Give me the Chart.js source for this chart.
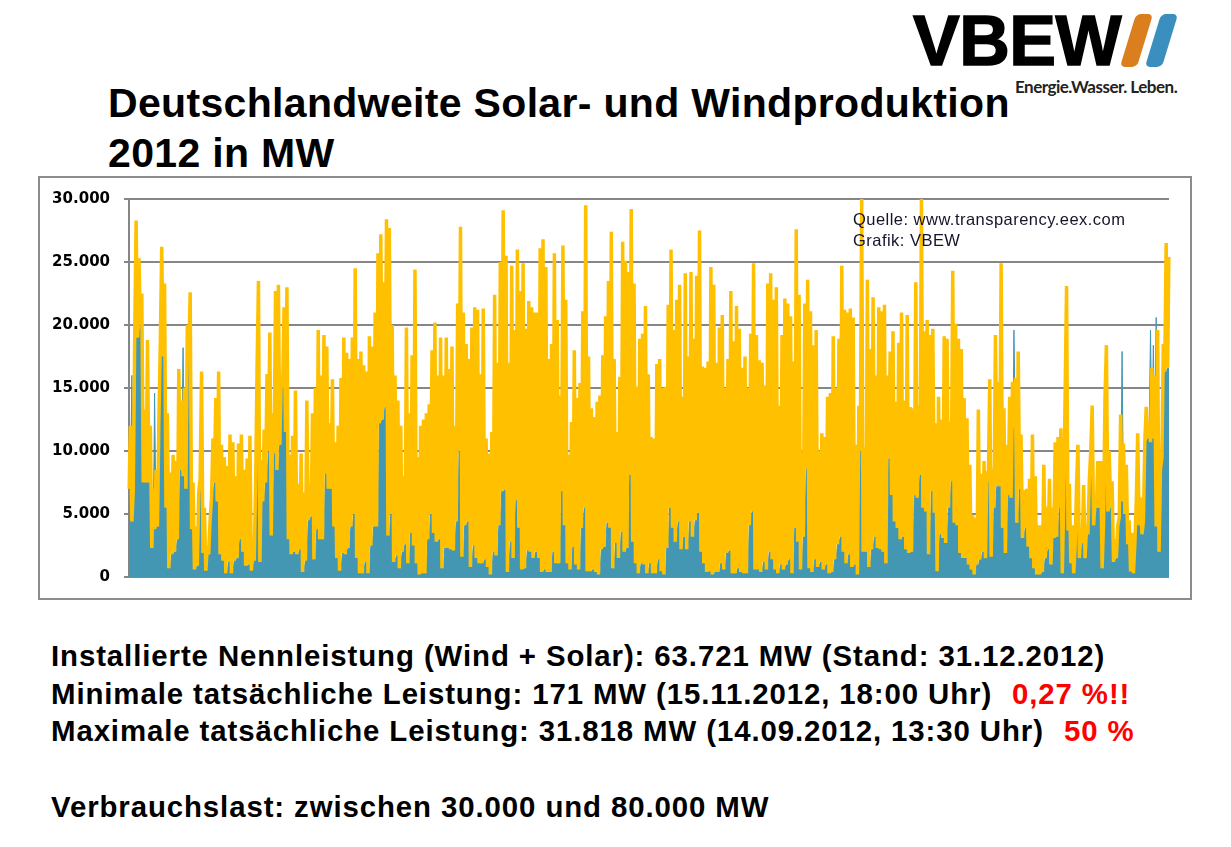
<!DOCTYPE html>
<html lang="de">
<head>
<meta charset="utf-8">
<title>Deutschlandweite Solar- und Windproduktion 2012 in MW</title>
<script src="https://cdn.jsdelivr.net/npm/chart.js@4"></script>
<style>
  html, body { margin: 0; padding: 0; background: #fff; }
  body { position: relative; width: 1231px; height: 847px; overflow: hidden; font-family: "Liberation Sans", Arial, sans-serif; color: #000; }
  .abs { position: absolute; white-space: nowrap; }
  .title { left: 108px; font-size: 41px; font-weight: bold; line-height: 50px; letter-spacing: 0.33px; }
  .info { left: 51px; font-size: 29.4px; font-weight: bold; line-height: 36px; letter-spacing: 0.9px; }
  .red { color: #ff0000; }
  #frame { left: 38px; top: 176px; width: 1150px; height: 420px; border: 2px solid #8c8c8c; }
  #chart { position: absolute; left: 0; top: -2px; }
  .source { left: 853px; font-size: 16.5px; color: #14142a; line-height: 21px; letter-spacing: 0.47px; }
  .logo { left: 913px; top: 0; font-size: 70px; font-weight: bold; line-height: 82px; -webkit-text-stroke: 1.5px #000; letter-spacing: -0.5px; }
  .stripe { top: 14px; width: 17px; height: 53px; border-radius: 5px; transform: skewX(-17deg); }
  .claim { left: 1015px; top: 77px; font-family: "Lato", sans-serif; font-size: 17px; font-weight: bold; color: #222; line-height: 20px; letter-spacing: -0.5px; }
</style>
</head>
<body>
<div class="abs logo">VBEW</div>
<div class="abs stripe" style="left:1128px;background:#db7f1e"></div>
<div class="abs stripe" style="left:1153px;background:#3a8fbe"></div>
<div class="abs claim">Energie.Wasser. Leben.</div>

<div class="abs title" style="top:78px">Deutschlandweite Solar- und Windproduktion</div>
<div class="abs title" style="top:128px">2012 in MW</div>

<div class="abs" id="frame"><canvas id="chart" width="1150" height="424"></canvas></div>
<div class="abs source" style="top:209px">Quelle: www.transparency.eex.com</div>
<div class="abs source" style="top:230px">Grafik: VBEW</div>

<div class="abs info" style="top:638px">Installierte Nennleistung (Wind + Solar): 63.721 MW (Stand: 31.12.2012)</div>
<div class="abs info" style="top:676px">Minimale tatsächliche Leistung: 171 MW (15.11.2012, 18:00 Uhr)</div>
<div class="abs info red" style="top:676px;left:1012px">0,27 %!!</div>
<div class="abs info" style="top:713px">Maximale tatsächliche Leistung: 31.818 MW (14.09.2012, 13:30 Uhr)</div>
<div class="abs info red" style="top:713px;left:1064px">50 %</div>
<div class="abs info" style="top:789px">Verbrauchslast: zwischen 30.000 und 80.000 MW</div>

<script>
// Tageswerte 2012 in MW
// Tagesspitze Wind + Solar
const dayPeak = [
  12000,7000,28300,25300,22500,13300,18800,12000,7000,8500,12400,26200,23300,13000,8300,9700,9200,16500,14000,15000,
  20000,22600,7500,4000,6700,16300,5500,2500,4500,11000,14200,16300,10500,9500,8800,11300,10700,8000,10600,11300,
  8500,9400,11200,2600,7400,23500,9300,11700,16100,19400,13000,22700,23200,16000,21400,23000,9700,11200,14800,7400,
  9800,6700,14000,7300,13000,15000,19600,16000,19200,18300,12200,15700,10700,12000,15800,19000,17800,17300,19000,24500,
  17300,17900,16800,16300,19100,18300,21000,25700,27200,23400,28400,27700,20000,16000,14000,12000,8000,19800,13000,17600,
  24400,9500,12000,12500,13000,13700,18000,20200,16000,
  19000,16000,19000,16500,18300,12000,21700,27800,21000,18500,17300,19800,21400,21200,16100,21300,11000,9800,11500,22400,
  17000,25000,29100,25500,17000,24700,19600,26000,22700,24900,19700,21900,21400,21000,21000,26100,26800,24600,17300,18500,
  25700,20400,14400,26300,22000,9700,12300,18000,14200,15400,21100,29500,17500,13400,12700,13900,14400,17600,20700,23500,
  27400,17300,11500,15900,26600,25100,24200,29200,23300,15100,18900,19300,21500,16100,11100,11000,16900,17300,15000,15100,
  21600,26000,19600,22000,23200,14300,24100,17500,24200,18900,23900,27500,16700,16600,17100,24600,23200,17000,19800,20800,
  15000,17300,22700,18700,21500,19700,16600,17500,15000,19300,24900,19200,17200,17000,15200,23300,24100,22000,23000,13600,
  19200,22100,21700,20700,17100,27600,22400,10000,21700,23600,21100,18400,19600,10000,11400,11100,14300,14600,
  19100,15000,18900,24700,21200,21000,21300,20600,10500,13600,30000,10300,23600,18100,22200,16000,21400,21100,21600,16000,
  17900,19500,13900,18600,21000,14000,20800,13500,13400,23400,13600,30000,19500,20400,19200,19700,12200,14300,12500,19100,
  18900,12300,24300,20100,18900,18100,14200,12600,8900,4900,4700,13300,8200,9200,8400,15700,8600,19200,15500,24900,
  13400,10500,14300,15500,15800,17900,11300,6900,7000,7800,11300,8000,4100,4100,8900,5600,7800,5500,10700,11100,
  11800,6100,23100,7400,4100,2400,10500,3900,7300,4100,7700,13600,6000,9200,9200,4400,18400,10000,7600,3000,
  4100,12900,10600,8900,4500,3500,2700,11400,6300,4400,13500,12300,16600,16000,19600,8600,18500,26500,25400
];
// Tagestief, entspricht etwa der Windleistung
const dayLow = [
  7000,4400,19000,19000,20000,7500,7500,7500,2300,3800,4000,18500,17500,5500,700,1800,2000,3000,8500,8000,
  7000,17500,3800,600,900,7800,1900,500,1800,6300,7500,6000,1800,1300,300,1200,300,1300,1500,3000,
  2000,900,1000,500,1300,16500,1200,6000,7500,10000,3300,9800,8500,10500,15000,11500,3000,1800,2000,1800,
  2200,400,1300,4500,4800,1400,3800,3000,3000,8200,7000,7000,4000,1500,500,1900,1800,2300,4000,5000,
  1500,300,300,1200,300,2500,4000,4000,12200,12500,13500,3300,5000,1200,1700,700,2000,2600,1100,3500,
  2500,1100,200,300,300,3000,5000,3500,2800,
  3000,700,2300,2300,2200,2100,4400,10000,1600,4100,4400,800,2500,1500,1100,1100,1400,800,200,2000,
  1700,4100,6800,6900,400,2800,1500,6100,3900,600,700,2100,2000,1500,2000,1500,400,600,400,400,
  2000,1100,1100,6800,4100,1100,600,2400,1000,600,3900,5500,450,450,600,400,200,2200,2400,4300,
  3900,700,2700,1500,3600,2000,2300,8100,2800,1100,300,1100,1000,300,1100,300,300,1400,450,200,
  2300,5500,3900,2800,4400,2200,3200,2200,4400,3200,4500,5100,2000,1100,400,450,200,400,400,1100,
  600,1900,2100,300,300,700,400,300,300,4100,5200,600,600,400,1200,600,2000,1400,600,300,
  1000,600,1000,1400,300,3900,2800,600,3200,8600,700,400,1400,800,1200,600,1000,300,
  400,1400,2600,3200,2000,1100,1800,800,1000,200,10000,2000,2000,800,2200,3200,2300,2200,2000,1100,
  9400,6500,4400,3900,3000,3200,2200,1900,2000,6500,6300,8100,5500,5200,1800,6800,5100,450,3400,3100,
  2700,5500,7600,4300,4100,1900,1500,1500,1000,600,200,1000,1400,2000,1500,7600,1600,5500,7200,7200,
  3900,1900,6500,6300,11800,4300,7000,3100,3900,2400,1500,700,200,200,400,1500,2200,1000,3100,3200,
  5500,300,14700,3700,1100,300,7300,1500,2700,1500,3400,10000,4100,5500,5500,700,14200,5200,5500,1200,
  1500,4700,6000,5000,2600,450,300,6000,4100,3400,10700,11000,10700,11000,4000,2000,9400,16300,16600
];
// einzelne Windspitzen, die aus dem Solarband herausragen
const windSpikeDays = [1, 9, 19, 311, 349, 359, 360, 361];
const windSpikeValues = [16000, 14600, 18200, 19600, 17900, 19600, 18400, 20600];
const yTicks = [0, 5000, 10000, 15000, 20000, 25000, 30000];

const labels = [];
const totalLine = [];
const windLine = [];
dayPeak.forEach((peak, i) => {
  const spike = windSpikeDays.indexOf(i);
  const wind = spike >= 0 ? windSpikeValues[spike] : dayLow[i];
  labels.push('Tag ' + (i + 1) + ' Tief', 'Tag ' + (i + 1) + ' Spitze');
  totalLine.push(dayLow[i], peak);
  windLine.push(wind, dayLow[i]);
});

const ctx = document.getElementById('chart').getContext('2d');

new Chart(ctx, {
  type: 'line',
  data: {
    labels: labels,
    datasets: [
      {
        label: 'Solar',
        data: totalLine,
        borderColor: '#ffc000',
        borderWidth: 3.5,
        borderJoinStyle: 'bevel',
        pointRadius: 0,
        tension: 0,
        fill: false,
        order: 1
      },
      {
        label: 'Wind',
        data: windLine,
        borderColor: '#4397b2',
        borderWidth: 1,
        backgroundColor: '#4397b2',
        pointRadius: 0,
        tension: 0,
        fill: 'origin',
        order: 2
      }
    ]
  },
  options: {
    responsive: false,
    animation: false,
    normalized: true,
    layout: { padding: { top: 18, bottom: 19, right: 21, left: 0 } },
    plugins: { legend: { display: false }, tooltip: { enabled: false } },
    scales: {
      x: {
        grid: { display: false },
        border: { display: false },
        ticks: { display: false },
        afterFit: (scale) => { scale.height = 0; }
      },
      y: {
        min: 0,
        max: 30000,
        afterFit: (scale) => { scale.width = 89; },
        afterBuildTicks: (scale) => { scale.ticks = yTicks.map(v => ({ value: v })); },
        grid: { color: '#868686', lineWidth: 2, tickLength: 5 },
        border: { color: '#868686', width: 2 },
        ticks: {
          color: '#000',
          padding: 14,
          font: { family: '"DejaVu Sans"', size: 15, weight: 'bold' },
          callback: (v) => v === 0 ? '0' : (v / 1000) + '.000'
        }
      }
    }
  }
});
</script>
</body>
</html>
